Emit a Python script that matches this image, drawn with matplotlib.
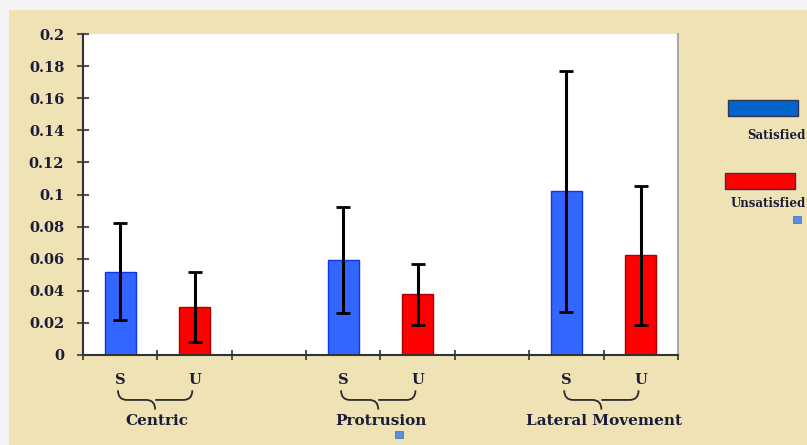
import numpy as np
import matplotlib
matplotlib.use('Agg')
import matplotlib.pyplot as plt
from matplotlib.patches import Rectangle, PathPatch
from matplotlib.path import Path
import matplotlib.transforms as mtransforms

# data
groups = ['Centric', 'Protrusion', 'Lateral Movement']
series_names = ['Satisfied', 'Unsatisfied']
short_names = ['S', 'U']
satisfied = [0.052, 0.059, 0.102]
satisfied_err = [0.030, 0.033, 0.075]
unsatisfied = [0.030, 0.038, 0.062]
unsatisfied_err = [0.022, 0.019, 0.043]
y_ticks = [0, 0.02, 0.04, 0.06, 0.08, 0.1, 0.12, 0.14, 0.16, 0.18, 0.2]
y_tick_labels = ['0', '0.02', '0.04', '0.06', '0.08', '0.1', '0.12', '0.14', '0.16', '0.18', '0.2']

BEIGE = '#EFE3B5'
TXT = '#1c1c38'
FONT = 'DejaVu Serif'


def brace(ax, x0, x1, y_top, y_mid, y_tip):
    # curly brace under a pair of bars, x in data, y in axes fraction
    trans = mtransforms.blended_transform_factory(ax.transData, ax.transAxes)
    xc = (x0 + x1) / 2
    r = 0.12
    verts = [(x0, y_top), (x0, y_mid), (x0 + r, y_mid),
             (xc - r, y_mid), (xc, y_mid), (xc, y_tip),
             (xc, y_mid), (xc + r, y_mid),
             (x1 - r, y_mid), (x1, y_mid), (x1, y_top)]
    codes = [Path.MOVETO, Path.CURVE3, Path.CURVE3,
             Path.LINETO, Path.CURVE3, Path.CURVE3,
             Path.MOVETO, Path.LINETO,
             Path.LINETO, Path.CURVE3, Path.CURVE3]
    patch = PathPatch(Path(verts, codes), transform=trans, fill=False,
                      edgecolor='#2b2b2b', linewidth=1.3, clip_on=False)
    ax.add_patch(patch)


def draw():
    W, H = 807, 445
    fig = plt.figure(figsize=(W / 100, H / 100), dpi=100)
    fig.patch.set_facecolor('#f4f4f4')
    fig.add_artist(Rectangle((9 / W, 0), 1, (H - 10) / H, transform=fig.transFigure,
                             facecolor=BEIGE, edgecolor='none', zorder=0))

    ax = fig.add_axes([83 / W, (H - 355) / H, (678 - 83) / W, (355 - 34) / H])
    ax.set_facecolor('white')
    ax.set_xlim(0, 8)
    ax.set_ylim(0, 0.2)

    pos_s = [0.5 + 3 * i for i in range(len(groups))]
    pos_u = [1.5 + 3 * i for i in range(len(groups))]
    w = 0.42
    ax.bar(pos_s, satisfied, width=w, color='#3366FF', edgecolor='#1133EE', linewidth=1, zorder=2)
    ax.bar(pos_u, unsatisfied, width=w, color='#FF0000', edgecolor='#AA0000', linewidth=1, zorder=2)
    ax.errorbar(pos_s, satisfied, yerr=satisfied_err, fmt='none', ecolor='black',
                elinewidth=2.2, capsize=4.8, capthick=2, zorder=3)
    ax.errorbar(pos_u, unsatisfied, yerr=unsatisfied_err, fmt='none', ecolor='black',
                elinewidth=2.2, capsize=4.8, capthick=2, zorder=3)

    ax.spines['top'].set_visible(False)
    ax.spines['right'].set_color('#aaaaaa')
    ax.spines['right'].set_linewidth(1.5)
    ax.spines['left'].set_color('#333333')
    ax.spines['left'].set_linewidth(1.5)
    ax.spines['bottom'].set_color('#333333')
    ax.spines['bottom'].set_linewidth(1.5)

    ax.set_yticks(y_ticks)
    ax.set_yticklabels(y_tick_labels, fontfamily=FONT, fontweight='bold', fontsize=10.5, color=TXT)
    ax.tick_params(axis='y', direction='inout', length=9, width=1.5, color='#555555', pad=9)
    ax.set_xticks(np.arange(0, 9))
    ax.set_xticklabels([])
    ax.tick_params(axis='x', direction='inout', length=7, width=1.2, color='#333333')

    blend = mtransforms.blended_transform_factory(ax.transData, ax.transAxes)
    for i, g in enumerate(groups):
        for x, s in zip([pos_s[i], pos_u[i]], short_names):
            ax.text(x, -0.078, s, transform=blend, ha='center', va='center',
                    fontfamily=FONT, fontweight='bold', fontsize=10.5, color=TXT)
        brace(ax, pos_s[i] - 0.03, pos_u[i] - 0.03, -0.11, -0.14, -0.17)
        ax.text((pos_s[i] + pos_u[i]) / 2, -0.205, g, transform=blend, ha='center', va='center',
                fontfamily=FONT, fontweight='bold', fontsize=11, color=TXT)

    # legend drawn by hand: swatch above, label below
    legend_items = [(series_names[0], '#0066CC', (728, 100), 135),
                    (series_names[1], '#FF0000', (725, 173), 203)]
    for name, col, (lx, ly), ty in legend_items:
        fig.add_artist(Rectangle((lx / W, 1 - (ly + 16) / H), 70 / W, 16 / H, transform=fig.transFigure,
                                 facecolor=col, edgecolor='#333355', linewidth=1, zorder=3))
        fig.text(806 / W, 1 - ty / H, name, ha='right', va='center', fontfamily=FONT,
                 fontweight='bold', fontsize=8.5, color=TXT)

    # small stray markers seen in the original
    for sx, sy in [(793, 216), (395, 431)]:
        fig.add_artist(Rectangle((sx / W, 1 - (sy + 7) / H), 8 / W, 7 / H, transform=fig.transFigure,
                                 facecolor='#5b8ee0', edgecolor='#3d6ac0', linewidth=0.5, zorder=3))

    fig.savefig('out.png', dpi=100, facecolor=fig.get_facecolor())


if __name__ == "__main__":
    draw()
